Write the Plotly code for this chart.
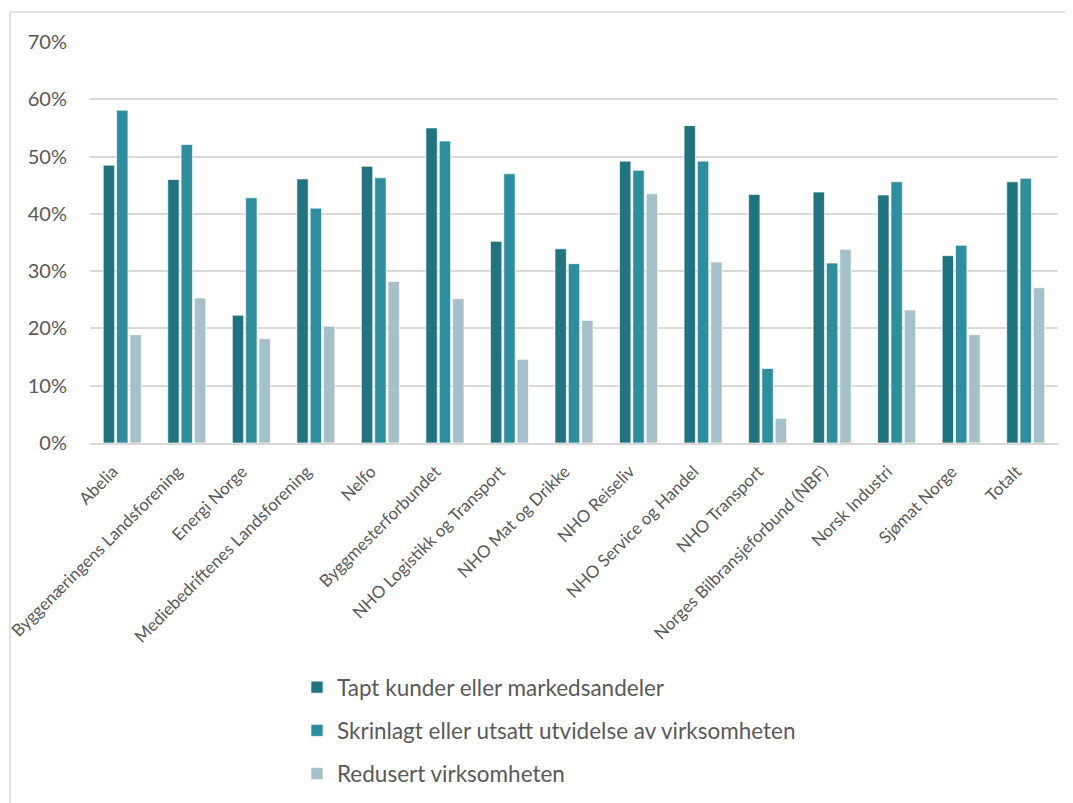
import plotly.graph_objects as go

categories = [
    "Abelia", "Byggenæringens Landsforening", "Energi Norge",
    "Mediebedriftenes Landsforening", "Nelfo", "Byggmesterforbundet",
    "NHO Logistikk og Transport", "NHO Mat og Drikke", "NHO Reiseliv",
    "NHO Service og Handel", "NHO Transport", "Norges Bilbransjeforbund (NBF)",
    "Norsk Industri", "Sjømat Norge", "Totalt",
]

tapt_kunder = [0.485, 0.460, 0.223, 0.461, 0.483, 0.550, 0.352, 0.339, 0.492,
               0.554, 0.434, 0.438, 0.433, 0.327, 0.456]
skrinlagt = [0.581, 0.521, 0.428, 0.410, 0.463, 0.527, 0.470, 0.313, 0.476,
             0.492, 0.130, 0.314, 0.456, 0.345, 0.462]
redusert = [0.189, 0.253, 0.182, 0.204, 0.282, 0.252, 0.146, 0.214, 0.435,
            0.316, 0.043, 0.338, 0.232, 0.189, 0.271]

series_names = [
    "Tapt kunder eller markedsandeler",
    "Skrinlagt eller utsatt utvidelse av virksomheten",
    "Redusert virksomheten",
]
series_values = [tapt_kunder, skrinlagt, redusert]
colors = ["#227380", "#2E8E9E", "#A5C0C8"]

FONT = "Lato"
TEXT_COLOR = "#595959"

# page body has an 8px margin; figure sized to fill the rest of the window
W, H = 1065, 795
L, R, T, B = 82, 15, 34, 360
PW, PH = W - L - R, H - T - B

# tick text padded with non-breaking spaces so rotated labels sit like the reference
tick_text = [c + "\u00a0\u00a0\u00a0" for c in categories]

fig = go.Figure()
for i, (name, vals, col) in enumerate(zip(series_names, series_values, colors)):
    fig.add_trace(go.Bar(
        x=categories, y=vals, name=name, legendgroup=f"g{i}",
        marker=dict(color=col, line=dict(color="rgba(255,255,255,0.8)", width=0.8)),
    ))

fig.update_layout(
    width=W, height=H,
    margin=dict(l=L, r=R, t=T, b=B, autoexpand=False),
    paper_bgcolor="white", plot_bgcolor="white",
    barmode="group", bargap=0.38, bargroupgap=0.15,
    font=dict(family=FONT, color=TEXT_COLOR),
    showlegend=True,
    legend=dict(
        orientation="v", x=(289 - L) / PW, xanchor="left",
        y=-(658 - (H - B)) / PH, yanchor="top",
        font=dict(size=22.5, color=TEXT_COLOR, family=FONT),
        tracegroupgap=11, bgcolor="rgba(0,0,0,0)",
    ),
    xaxis=dict(
        tickangle=-45, tickfont=dict(size=17, color=TEXT_COLOR, family=FONT),
        tickmode="array", tickvals=categories, ticktext=tick_text,
        showgrid=False, showline=True, linecolor="#D9D9D9", linewidth=1.5,
        ticks="", ticklabelstandoff=1, automargin=False,
    ),
    yaxis=dict(
        range=[0, 0.70], dtick=0.10, tickformat=".0%",
        tickfont=dict(size=20, color=TEXT_COLOR, family=FONT),
        showgrid=True, gridcolor="#D9D9D9", gridwidth=1.5,
        zeroline=False, showline=False, ticks="", ticklabelstandoff=22,
        automargin=False,
    ),
    shapes=[dict(
        type="rect", xref="paper", yref="paper",
        x0=(2 - L) / PW, x1=(W + 10 - L) / PW,
        y0=-(H + 10 - (H - B)) / PH, y1=((H - B) - 4) / PH,
        line=dict(color="#D9D9D9", width=1.5), fillcolor="rgba(0,0,0,0)",
        layer="below",
    )],
)

fig.write_html("out.html")
